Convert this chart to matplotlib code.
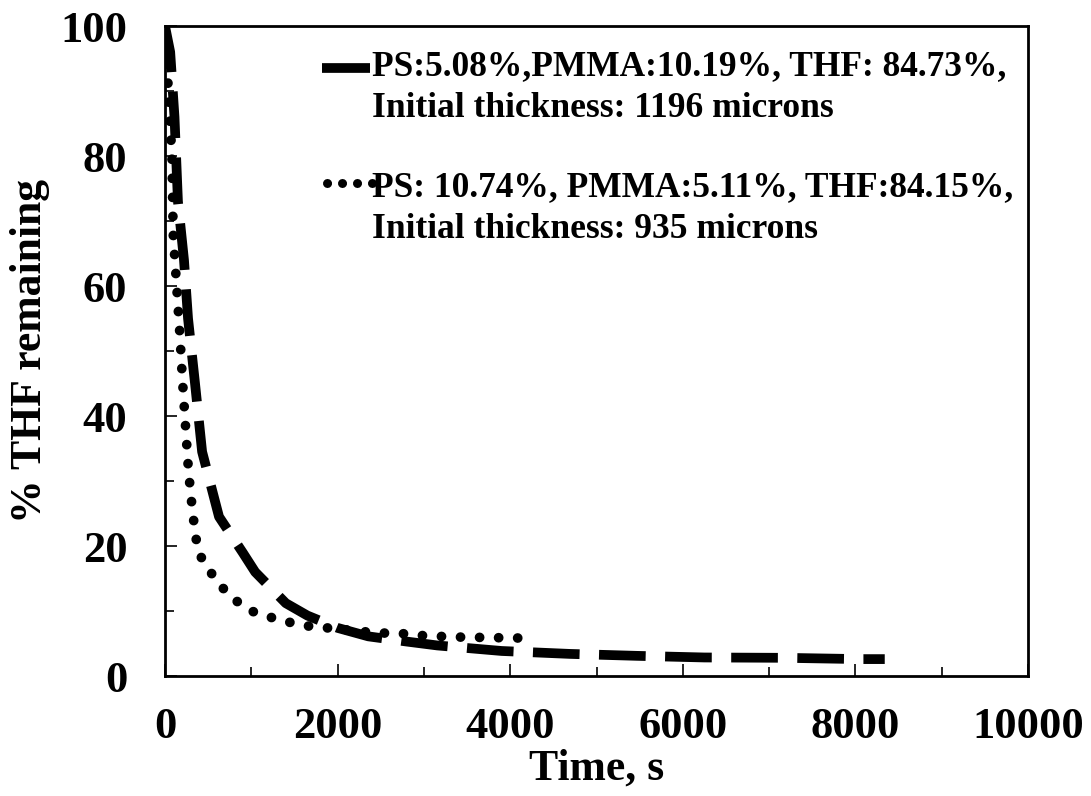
import matplotlib
matplotlib.use("Agg")
import matplotlib.pyplot as plt
from matplotlib.ticker import MultipleLocator

# series 1 (dashed): PS 5.08 / PMMA 10.19
dash_t = [0, 60, 110, 150, 220, 267, 348, 430, 626, 900, 1045, 1400, 1650, 2000,
          2355, 2800, 3155, 3900, 4690, 5470, 6250, 7160, 8060, 8340]
dash_y = [100, 96, 86, 73, 64, 55, 45, 34.5, 24.5, 19, 16, 11.2, 9.3, 7.4,
          6.1, 5.3, 4.7, 3.85, 3.4, 3.1, 2.85, 2.8, 2.6, 2.6]

# series 2 (dotted): PS 10.74 / PMMA 5.11
dot_t = [0, 35, 80, 95, 130, 175, 200, 235, 270, 300, 325, 350, 395, 510, 650, 810,
         1000, 1205, 1430, 1650, 1880, 2100, 2320, 2550, 2770, 3000, 3350, 3820, 4300]
dot_y = [100, 91, 80, 68, 61, 52, 46, 39, 32, 27.7, 24.8, 21.8, 18.8, 16.3, 13.8, 11.7,
         10, 9.1, 8.3, 7.7, 7.4, 7.1, 6.8, 6.6, 6.5, 6.2, 6.0, 5.9, 5.8]

legend_lines = [
    ("PS:5.08%,PMMA:10.19%, THF: 84.73%,", "Initial thickness: 1196 microns"),
    ("PS: 10.74%, PMMA:5.11%, THF:84.15%,", "Initial thickness: 935 microns"),
]

plt.rcParams['font.family'] = ['Liberation Serif', 'DejaVu Serif']
plt.rcParams['font.weight'] = 'bold'

fig = plt.figure(figsize=(10.91, 7.96), dpi=100)
ax = fig.add_axes([165 / 1091, 1 - 676 / 796, 863 / 1091, 650 / 796])

ax.plot(dash_t, dash_y, color='black', lw=7, linestyle=(0, (4.8, 2.0)),
        dash_capstyle='butt', zorder=2)
ax.plot(dot_t, dot_y, color='black', lw=7, linestyle=(0, (0.01, 1.95)),
        dash_capstyle='round', zorder=3)

ax.set_xlim(0, 10000)
ax.set_ylim(0, 100)
ax.xaxis.set_major_locator(MultipleLocator(2000))
ax.xaxis.set_minor_locator(MultipleLocator(1000))
ax.yaxis.set_major_locator(MultipleLocator(20))
ax.yaxis.set_minor_locator(MultipleLocator(10))
ax.tick_params(which='both', direction='in', width=1.2, labelsize=32)
ax.tick_params(which='major', length=8.6)
ax.tick_params(which='minor', length=6.5)
ax.tick_params(axis='x', which='major', pad=22)
ax.tick_params(axis='y', which='major', pad=27)
for lab in ax.get_xticklabels() + ax.get_yticklabels():
    lab.set_fontweight('bold')
for sp in ax.spines.values():
    sp.set_linewidth(2)

ax.set_xlabel("Time, s", fontsize=31.5, fontweight='bold')
ax.set_ylabel("% THF remaining", fontsize=31.5, fontweight='bold')
ax.xaxis.set_label_coords(0.5, -0.112)
ax.yaxis.set_label_coords(-0.133, 0.5)

# legend drawn by hand (Excel-like layout: handle beside first line)
def px(x, y):
    return (x - 165) / 863, (676 - y) / 650

for i, (l1, l2) in enumerate(legend_lines):
    base = 75 + i * 121
    ax.text(*px(372, base), l1, transform=ax.transAxes, fontsize=25.5,
            fontweight='bold', va='baseline', ha='left')
    ax.text(*px(372, base + 42), l2, transform=ax.transAxes, fontsize=25.5,
            fontweight='bold', va='baseline', ha='left')

hx0, hy0 = px(322, 68)
hx1, _ = px(370, 68)
ax.plot([hx0, hx1], [hy0, hy0], transform=ax.transAxes, color='black', lw=7,
        solid_capstyle='butt', clip_on=False)
dx0, dy0 = px(327, 183)
dx1, _ = px(373, 183)
ax.plot([dx0, dx1], [dy0, dy0], transform=ax.transAxes, color='black', lw=6.5,
        linestyle=(0, (0.01, 1.65)), dash_capstyle='round', clip_on=False)

fig.savefig("out.png", dpi=100)
